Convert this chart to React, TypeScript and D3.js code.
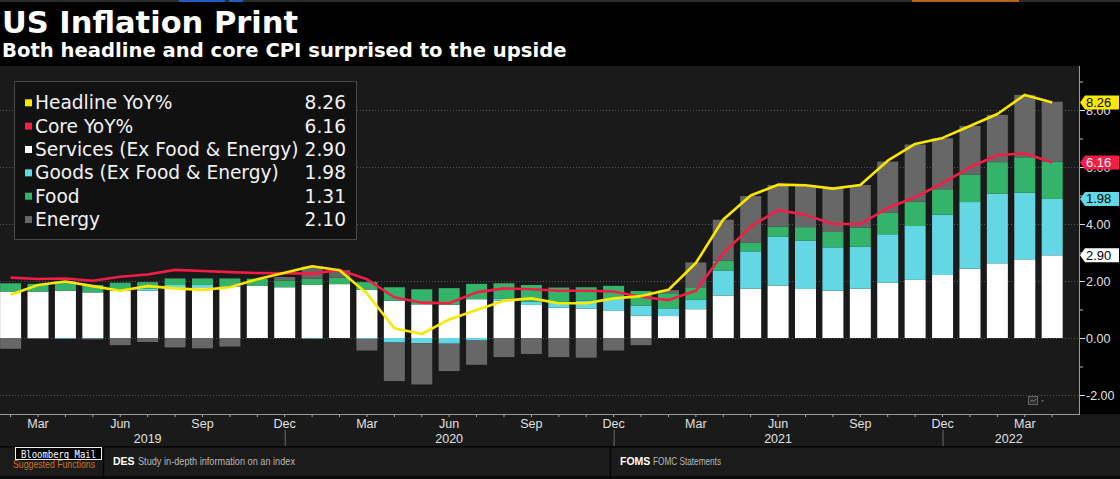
import React from "react";
import * as d3 from "d3";

// ---------- DATA ----------
const months = [
  "Feb 2019", "Mar 2019", "Apr 2019", "May 2019", "Jun 2019", "Jul 2019", "Aug 2019", "Sep 2019", "Oct 2019", "Nov 2019", "Dec 2019",
  "Jan 2020", "Feb 2020", "Mar 2020", "Apr 2020", "May 2020", "Jun 2020", "Jul 2020", "Aug 2020", "Sep 2020", "Oct 2020", "Nov 2020", "Dec 2020",
  "Jan 2021", "Feb 2021", "Mar 2021", "Apr 2021", "May 2021", "Jun 2021", "Jul 2021", "Aug 2021", "Sep 2021", "Oct 2021", "Nov 2021", "Dec 2021",
  "Jan 2022", "Feb 2022", "Mar 2022", "Apr 2022",
];

const services = [
  1.63, 1.63, 1.66, 1.60, 1.66, 1.66, 1.78, 1.78, 1.80, 1.84, 1.78,
  1.86, 1.89, 1.70, 1.31, 1.18, 1.17, 1.36, 1.31, 1.16, 1.06, 1.03, 0.95,
  0.78, 0.77, 1.01, 1.49, 1.73, 1.84, 1.72, 1.66, 1.73, 1.94, 2.04, 2.21,
  2.43, 2.62, 2.76, 2.90,
];
const goods = [
  0.00, 0.00, -0.02, -0.02, 0.00, 0.06, 0.08, 0.08, 0.02, 0.00, 0.00,
  -0.02, 0.00, -0.03, -0.16, -0.18, -0.20, -0.09, 0.08, 0.12, 0.21, 0.28, 0.42,
  0.35, 0.27, 0.33, 0.88, 1.31, 1.72, 1.70, 1.52, 1.47, 1.70, 1.89, 2.12,
  2.34, 2.44, 2.34, 1.98,
];
const food = [
  0.29, 0.27, 0.27, 0.26, 0.28, 0.24, 0.23, 0.23, 0.27, 0.24, 0.24,
  0.22, 0.23, 0.26, 0.47, 0.53, 0.58, 0.54, 0.53, 0.58, 0.50, 0.47, 0.46,
  0.52, 0.53, 0.44, 0.34, 0.30, 0.35, 0.47, 0.54, 0.67, 0.75, 0.85, 0.89,
  0.97, 1.11, 1.24, 1.31,
];
const energy = [
  -0.38, -0.03, 0.07, -0.03, -0.25, -0.14, -0.33, -0.36, -0.30, 0.00, 0.12,
  0.43, 0.26, -0.41, -1.35, -1.45, -0.96, -0.85, -0.67, -0.56, -0.67, -0.69, -0.44,
  -0.25, 0.11, 0.87, 1.44, 1.64, 1.46, 1.45, 1.53, 1.50, 1.80, 2.01, 1.79,
  1.70, 1.66, 2.19, 2.10,
];
const headline = [
  1.52, 1.86, 1.98, 1.82, 1.66, 1.82, 1.74, 1.69, 1.78, 2.06, 2.29,
  2.52, 2.38, 1.56, 0.34, 0.14, 0.65, 0.98, 1.31, 1.39, 1.22, 1.22, 1.39,
  1.47, 1.69, 2.63, 4.16, 5.00, 5.38, 5.36, 5.24, 5.37, 6.22, 6.81, 7.02,
  7.44, 7.86, 8.53, 8.26,
];
const core = [
  2.12, 2.07, 2.09, 2.01, 2.15, 2.23, 2.39, 2.35, 2.31, 2.28, 2.27,
  2.26, 2.39, 2.06, 1.43, 1.24, 1.22, 1.60, 1.74, 1.71, 1.66, 1.66, 1.63,
  1.45, 1.33, 1.66, 2.97, 3.91, 4.49, 4.32, 4.00, 4.00, 4.56, 4.94, 5.43,
  5.99, 6.41, 6.48, 6.16,
];

const yMajorTicks = [-2, 0, 2, 4, 6, 8];
const yMinorTicks = [-1, 1, 3, 5, 7, 9];
const monthTickNames = ["Mar", "Jun", "Sep", "Dec"];
const years = ["2019", "2020", "2021", "2022"];

const seriesKeys = ["services", "goods", "food", "energy"];
const seriesNames = {
  headline: "Headline YoY%",
  core: "Core YoY%",
  services: "Services (Ex Food & Energy)",
  goods: "Goods (Ex Food & Energy)",
  food: "Food",
  energy: "Energy",
};
const colors = {
  headline: "#fbe700",
  core: "#f41d45",
  services: "#ffffff",
  goods: "#64d7e5",
  food: "#34b46b",
  energy: "#676767",
};

// ---------- LAYOUT ----------
const W = 1120;
const H = 479;
const panelTop = 66;
const panelBottom = 414;
const panelRight = 1079;

export default function App() {
  const x = d3
    .scaleBand<string>()
    .domain(months)
    .range([-3.1, 1065.9])
    .paddingInner(0.234)
    .paddingOuter(0.117);
  const cx = (m: string) => (x(m) as number) + x.bandwidth() / 2;

  const y = d3.scaleLinear().domain([-2, 8]).range([395, 110]);

  const table = months.map((m, i) => ({
    month: m,
    services: services[i],
    goods: goods[i],
    food: food[i],
    energy: energy[i],
  }));
  const stacked = d3
    .stack<any>()
    .keys(seriesKeys)
    .offset(d3.stackOffsetDiverging)(table);

  const line = d3
    .line<number>()
    .x((_, i) => cx(months[i]))
    .y((d) => y(d));

  const last = months.length - 1;
  const legendItems = [
    { key: "headline", value: headline[last] },
    { key: "core", value: core[last] },
    { key: "services", value: services[last] },
    { key: "goods", value: goods[last] },
    { key: "food", value: food[last] },
    { key: "energy", value: energy[last] },
  ];

  const callouts = [
    { value: services[last], pos: services[last], bg: colors.services, fg: "#000" },
    { value: goods[last], pos: services[last] + goods[last], bg: colors.goods, fg: "#000" },
    { value: core[last], pos: core[last], bg: colors.core, fg: "#fff" },
    { value: headline[last], pos: headline[last], bg: colors.headline, fg: "#000" },
  ];

  const decIdx = months.map((m, i) => (m.startsWith("Dec") ? i : -1)).filter((i) => i >= 0);
  const bounds = [cx(months[0]), ...decIdx.map((i) => cx(months[i])), panelRight - 4];

  const axisFont = "'Liberation Sans', Arial, sans-serif";
  const uiFont = "'DejaVu Sans', Verdana, sans-serif";

  return (
    <svg
      width={W}
      height={H}
      style={{ position: "absolute", left: 0, top: 0, display: "block", background: "#000" }}
    >
      <defs>
        <clipPath id="panelClip">
          <rect x={0} y={panelTop} width={panelRight} height={panelBottom - panelTop} />
        </clipPath>
      </defs>
      <rect x={0} y={0} width={W} height={H} fill="#000" />
      {/* top strip */}
      <rect x={0} y={0} width={W} height={2} fill="#2c2c2c" />
      <rect x={179} y={0} width={46} height={2} fill="#1d5fc4" />
      <rect x={229} y={0} width={14} height={2} fill="#1d5fc4" />
      <rect x={912} y={0} width={107} height={2} fill="#b5661d" />

      {/* titles */}
      <text x={2} y={33} fill="#fff" fontFamily={uiFont} fontWeight="bold" fontSize={30.5}>
        US Inflation Print
      </text>
      <text x={2} y={57} fill="#fff" fontFamily={uiFont} fontWeight="bold" fontSize={19.6}>
        Both headline and core CPI surprised to the upside
      </text>

      {/* panel */}
      <rect x={0} y={panelTop} width={panelRight} height={panelBottom - panelTop} fill="#1a1a1a" />

      {/* gridlines */}
      {yMajorTicks.map((t) => (
        <line
          key={"g" + t}
          x1={0}
          x2={panelRight}
          y1={y(t) + 0.5}
          y2={y(t) + 0.5}
          stroke="#555"
          strokeWidth={1}
          strokeDasharray="1 2"
        />
      ))}

      {/* bars */}
      <g clipPath="url(#panelClip)">
        {stacked.map((s) => (
          <g key={s.key} fill={(colors as any)[s.key]}>
            {s.map((d: any, i: number) => {
              const y0 = y(d[0]);
              const y1 = y(d[1]);
              const top = Math.min(y0, y1);
              const h = Math.abs(y1 - y0);
              if (h < 0.01) return null;
              return (
                <rect
                  key={i}
                  x={x(months[i]) as number}
                  y={top}
                  width={x.bandwidth()}
                  height={h}
                />
              );
            })}
          </g>
        ))}
        <path d={line(core) || ""} fill="none" stroke={colors.core} strokeWidth={2.6} strokeLinejoin="round" />
        <path d={line(headline) || ""} fill="none" stroke={colors.headline} strokeWidth={2.6} strokeLinejoin="round" />
      </g>

      {/* small chart icon */}
      <rect x={1028.5} y={396.5} width={9} height={8} fill="#2a2a2a" stroke="#666" />
      <path d="M1030,402 L1032,400 L1034,401.5 L1036,399" stroke="#888" fill="none" strokeWidth={0.8} />
      <path d="M1041,400 L1044,400 L1042.5,402 Z" fill="#666" />

      {/* legend */}
      <rect x={14.5} y={81.5} width={342} height={158} fill="#111" stroke="#4a4a4a" />
      {legendItems.map((it, i) => {
        const base = 109.3 + i * 23.35;
        return (
          <g key={it.key}>
            <rect x={25} y={base - 10} width={7} height={7} fill={(colors as any)[it.key]} />
            <text x={35} y={base} fill="#f2f2f2" fontFamily={uiFont} fontSize={18.6}>
              {(seriesNames as any)[it.key]}
            </text>
            <text x={346} y={base} fill="#f2f2f2" fontFamily={uiFont} fontSize={18.6} textAnchor="end">
              {it.value.toFixed(2)}
            </text>
          </g>
        );
      })}

      {/* panel border */}
      <line x1={panelRight + 0.5} x2={panelRight + 0.5} y1={panelTop} y2={panelBottom} stroke="#9a9a9a" />

      {/* right axis */}
      {yMinorTicks.map((t) => (
        <line key={"mi" + t} x1={panelRight + 1} x2={panelRight + 4} y1={y(t) + 0.5} y2={y(t) + 0.5} stroke="#bbb" />
      ))}
      {yMajorTicks.map((t) => (
        <g key={"ma" + t}>
          <line x1={panelRight + 1} x2={panelRight + 6} y1={y(t) + 0.5} y2={y(t) + 0.5} stroke="#ddd" />
          <text x={panelRight + 7} y={y(t) + 4.5} fill="#e0e0e0" fontFamily={axisFont} fontSize={12.5}>
            {t.toFixed(2)}
          </text>
        </g>
      ))}

      {/* callouts */}
      {callouts.map((c, i) => {
        const cy = y(c.pos);
        const x0 = panelRight + 1;
        const h = 14;
        const pts = [
          [x0, cy],
          [x0 + 5, cy - h / 2],
          [W - 1, cy - h / 2],
          [W - 1, cy + h / 2],
          [x0 + 5, cy + h / 2],
        ]
          .map((p) => p.join(","))
          .join(" ");
        return (
          <g key={"co" + i}>
            <polygon points={pts} fill={c.bg} />
            <text x={x0 + 6} y={cy + 4.5} fill={c.fg} fontFamily={axisFont} fontSize={13}>
              {c.value.toFixed(2)}
            </text>
          </g>
        );
      })}

      {/* x-axis area */}
      <rect x={0} y={panelBottom} width={W} height={446 - panelBottom} fill="#1a1a1a" />
      <line x1={0} x2={panelRight + 1} y1={panelBottom + 0.5} y2={panelBottom + 0.5} stroke="#9a9a9a" />
      {months.map((m, i) => (
        <line key={"t" + i} x1={cx(m)} x2={cx(m)} y1={panelBottom + 1} y2={panelBottom + 3} stroke="#aaa" />
      ))}
      {months.map((m, i) => {
        const name = m.slice(0, 3);
        if (!monthTickNames.includes(name)) return null;
        return (
          <text
            key={"ml" + i}
            x={cx(m)}
            y={428}
            fill="#e0e0e0"
            fontFamily={axisFont}
            fontSize={12.5}
            textAnchor="middle"
          >
            {name}
          </text>
        );
      })}
      {decIdx.map((i) => (
        <line key={"ys" + i} x1={cx(months[i]) + 0.5} x2={cx(months[i]) + 0.5} y1={430} y2={446} stroke="#6a6a6a" />
      ))}
      {years.map((yr, i) => (
        <text
          key={yr}
          x={(bounds[i] + bounds[i + 1]) / 2}
          y={443}
          fill="#e0e0e0"
          fontFamily={axisFont}
          fontSize={12.5}
          textAnchor="middle"
        >
          {yr}
        </text>
      ))}

      {/* bottom bar */}
      <rect x={0} y={446} width={W} height={1.5} fill="#050505" />
      <rect x={0} y={447.5} width={W} height={29} fill="#1b1b1b" />
      <rect x={0} y={476.5} width={W} height={2.5} fill="#0a0a0a" />
      <text x={13} y={468} fill="#c9771f" fontFamily={axisFont} fontSize={10.5} textLength={82} lengthAdjust="spacingAndGlyphs">
        Suggested Functions
      </text>
      <rect x={15.5} y={447.5} width={86} height={12} fill="#000" stroke="#eee" />
      <text
        x={21}
        y={457.5}
        fill="#fff"
        fontFamily="'DejaVu Sans Mono', monospace"
        fontSize={10}
        textLength={75}
        lengthAdjust="spacingAndGlyphs"
      >
        Bloomberg Mail
      </text>
      <line x1={103.5} x2={103.5} y1={447} y2={477} stroke="#050505" strokeWidth={1.5} />
      <line x1={610.5} x2={610.5} y1={447} y2={477} stroke="#050505" strokeWidth={1.5} />
      <text x={113} y={465} fill="#fff" fontFamily={axisFont} fontWeight="bold" fontSize={10.5}>
        DES
      </text>
      <text x={138} y={465} fill="#b8b8b8" fontFamily={axisFont} fontSize={10.5} textLength={157} lengthAdjust="spacingAndGlyphs">
        Study in-depth information on an index
      </text>
      <text x={620} y={465} fill="#fff" fontFamily={axisFont} fontWeight="bold" fontSize={10.5}>
        FOMS
      </text>
      <text x={653} y={465} fill="#b8b8b8" fontFamily={axisFont} fontSize={10.5} textLength={68} lengthAdjust="spacingAndGlyphs">
        FOMC Statements
      </text>
    </svg>
  );
}
